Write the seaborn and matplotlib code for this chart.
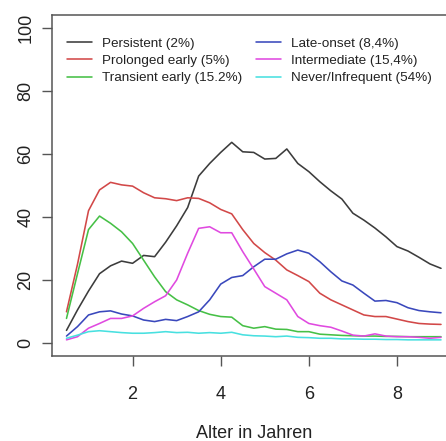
import numpy as np
import pandas as pd
import matplotlib
matplotlib.use("Agg")
import matplotlib.pyplot as plt
import seaborn as sns
from matplotlib.lines import Line2D

ages = [0.5, 0.75, 1.0, 1.25, 1.5, 1.75, 2.0, 2.25, 2.5, 2.75, 3.0, 3.25, 3.5, 3.75,
        4.0, 4.25, 4.5, 4.75, 5.0, 5.25, 5.5, 5.75, 6.0, 6.25, 6.5, 6.75, 7.0, 7.25,
        7.5, 7.75, 8.0, 8.25, 8.5, 8.75, 9.0]

persistent = [4.0, 10.5, 16.5, 22.0, 24.5, 26.0, 25.3, 27.8, 27.4, 32.0, 37.2, 43.0,
              53.0, 57.0, 60.5, 63.7, 60.7, 60.5, 58.4, 58.6, 61.6, 57.0, 54.4, 51.2,
              48.3, 45.7, 41.2, 39.0, 36.5, 33.7, 30.6, 29.2, 27.2, 25.1, 23.7]
prolonged = [9.9, 25.0, 42.0, 48.6, 51.0, 50.2, 49.8, 47.7, 46.1, 45.8, 45.2, 46.1,
             45.9, 44.5, 42.4, 41.0, 36.0, 31.6, 28.7, 26.3, 23.2, 21.4, 19.5, 15.8,
             13.7, 12.1, 10.5, 8.9, 8.4, 8.4, 7.6, 6.8, 6.2, 6.0, 5.9]
transient = [7.8, 22.0, 36.0, 40.3, 38.0, 35.3, 31.6, 26.3, 21.0, 16.3, 13.7, 12.1,
             10.3, 9.1, 8.4, 8.2, 5.5, 4.7, 5.2, 4.4, 4.3, 3.6, 3.6, 2.8, 2.6, 2.4,
             2.3, 2.2, 2.2, 2.1, 2.1, 2.0, 2.0, 2.0, 2.0]
late_onset = [2.2, 5.2, 8.9, 9.9, 10.2, 9.2, 8.6, 7.3, 6.8, 7.5, 7.1, 8.4, 9.9, 13.7,
              18.7, 20.8, 21.4, 24.2, 26.6, 26.6, 28.3, 29.5, 28.5, 25.8, 22.6, 19.7,
              18.4, 15.8, 13.3, 13.5, 12.8, 11.2, 10.3, 9.9, 9.6]
intermediate = [1.0, 2.0, 4.7, 6.2, 7.8, 7.8, 8.6, 11.0, 13.1, 15.0, 20.0, 28.5, 36.4,
                36.9, 35.0, 35.0, 29.0, 23.5, 17.9, 15.8, 13.7, 8.4, 6.2, 5.5, 5.0,
                3.8, 2.5, 2.2, 2.9, 2.2, 2.0, 2.0, 1.8, 1.5, 1.8]
never = [1.5, 2.5, 3.6, 3.9, 3.6, 3.3, 3.1, 3.1, 3.3, 3.6, 3.3, 3.4, 3.1, 3.3, 3.1,
         3.4, 2.6, 2.3, 2.2, 2.0, 2.2, 1.8, 1.7, 1.5, 1.5, 1.3, 1.3, 1.2, 1.2, 1.1,
         1.1, 1.0, 1.0, 1.0, 1.0]

labels = ["Persistent (2%)", "Prolonged early (5%)", "Transient early (15.2%)",
          "Late-onset (8,4%)", "Intermediate (15,4%)", "Never/Infrequent (54%)"]
series = [persistent, prolonged, transient, late_onset, intermediate, never]
colors = ["#3c3c3c", "#d24848", "#46c046", "#3a48bc", "#e04ae0", "#48e0e0"]

xticks = [2, 4, 6, 8]
yticks = [0, 20, 40, 60, 80, 100]

df = pd.concat([pd.DataFrame({"age": ages, "value": s, "group": lab})
                for lab, s in zip(labels, series)], ignore_index=True)

sns.set_theme(style="white")
plt.rcParams["font.family"] = ["Liberation Sans", "DejaVu Sans"]

W, H = 446, 441
fig = plt.figure(figsize=(W / 100, H / 100), dpi=100)
left, right, top, bottom = 51.5, 456.0, 15.4, 355.6
ax = fig.add_axes([left / W, 1 - bottom / H, (right - left) / W, (bottom - top) / H])

sns.lineplot(data=df, x="age", y="value", hue="group", hue_order=labels,
             palette=colors, linewidth=1.15, ax=ax, legend=False, errorbar=None)

ax.set_xlim(0.16, 9.34)
ax.set_ylim(-4, 104)
ax.set_xticks(xticks)
ax.set_yticks(yticks)
ax.set_xticklabels([str(t) for t in xticks], fontsize=13, color="#222222")
ax.set_yticklabels([str(t) for t in yticks], fontsize=13, color="#222222",
                   rotation=90, va="center")
ax.tick_params(axis="both", which="major", direction="out", length=7.2, width=1.0,
               color="#555555", bottom=True, left=True)
ax.tick_params(axis="x", pad=14.5)
ax.tick_params(axis="y", pad=5)
for sp in ax.spines.values():
    sp.set_visible(True)
    sp.set_color("#555555")
    sp.set_linewidth(1.1)
ax.set_xlabel("Alter in Jahren", fontsize=13, color="#222222", labelpad=16)
ax.set_ylabel("")
ax.grid(False)

handles = [Line2D([0], [0], color=c, lw=1.15) for c in colors]
fig.legend(handles, labels, loc="upper left", bbox_to_anchor=(67 / W, 1 - 37.5 / H),
           bbox_transform=fig.transFigure, ncol=2, frameon=False, fontsize=9.7,
           handlelength=1.85, handletextpad=0.74, columnspacing=1.0,
           labelspacing=0.36, borderpad=0, borderaxespad=0, labelcolor="#222222")

fig.savefig("out.png", dpi=100)
